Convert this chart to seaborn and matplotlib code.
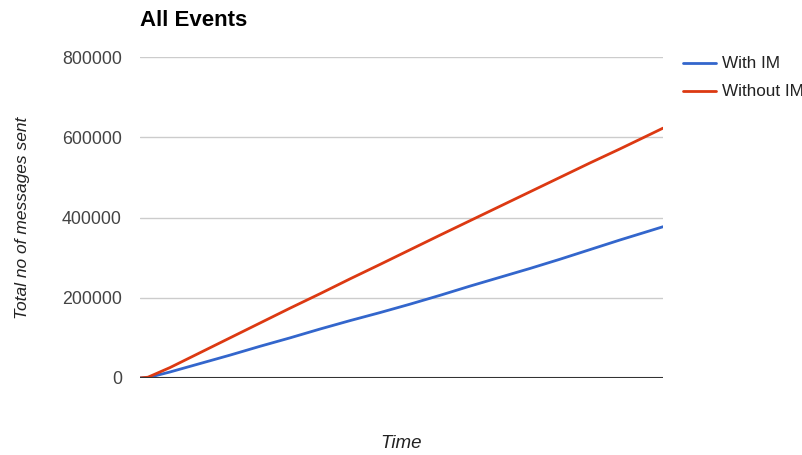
import matplotlib
matplotlib.use("Agg")
import matplotlib.pyplot as plt
import seaborn as sns
import pandas as pd

# Elapsed time (arbitrary units) and cumulative message counts
time = [0, 8, 30, 60, 90, 120, 150, 180, 210, 240, 270, 300, 330, 360,
        390, 420, 450, 480, 510, 523]
with_im = [0, 1000, 15000, 36000, 57000, 79000, 100000, 122000, 143000,
           163000, 184000, 206000, 229000, 251000, 273000, 296000, 320000,
           344000, 367000, 377000]
without_im = [0, 2000, 26000, 63000, 100000, 137000, 174000, 210000, 247000,
              283000, 319500, 356000, 392000, 428000, 464000, 500000, 536000,
              571000, 607000, 622700]
series_names = ["With IM", "Without IM"]
series_colors = ["#3366cc", "#dc3912"]
y_ticks = [0, 200000, 400000, 600000, 800000]

df = pd.concat([
    pd.DataFrame({"Time": time, "Messages": with_im, "Series": series_names[0]}),
    pd.DataFrame({"Time": time, "Messages": without_im, "Series": series_names[1]}),
])

sns.set_theme(style="white")
plt.rcParams["font.family"] = ["Liberation Sans", "DejaVu Sans"]

fig = plt.figure(figsize=(8.03, 4.55), dpi=100)
ax = fig.add_axes([140 / 803, 1 - 378 / 455, 523 / 803, 321 / 455])

for y in y_ticks[1:]:
    ax.axhline(y, color="#cccccc", linewidth=1.0, zorder=0)
ax.axhline(0, color="#333333", linewidth=1.5, zorder=3)

sns.lineplot(data=df, x="Time", y="Messages", hue="Series",
             palette=series_colors, linewidth=2.0, ax=ax, legend=False,
             zorder=2)

ax.set_xlim(0, 523)
ax.set_ylim(0, 800000)
ax.set_yticks(y_ticks)
ax.set_yticklabels([str(v) for v in y_ticks], fontsize=12.8, color="#444444")
ax.set_xticks([])
ax.tick_params(axis="y", length=0, pad=13)
for s in ax.spines.values():
    s.set_visible(False)

ax.set_xlabel("Time", fontsize=13.5, fontstyle="italic", color="#222222",
              labelpad=0)
ax.xaxis.set_label_coords(0.5, -0.178)
ax.set_ylabel("Total no of messages sent", fontsize=12.5, fontstyle="italic",
              color="#222222")
ax.yaxis.set_label_coords(-0.21, 0.5)

fig.text(140 / 803, 1 - 26 / 455, "All Events", fontsize=16,
         fontweight="bold", color="#000000", ha="left", va="baseline")

# Legend on the right
for i, (name, col) in enumerate(zip(series_names, series_colors)):
    yy = 1 - (63 + 28 * i) / 455
    fig.add_artist(plt.Line2D([683 / 803, 716 / 803], [yy, yy], color=col,
                              linewidth=2.0, transform=fig.transFigure))
    fig.text(722 / 803, yy, name, fontsize=12.3, color="#222222",
             ha="left", va="center")

fig.savefig("out.png", dpi=100, facecolor="white")
